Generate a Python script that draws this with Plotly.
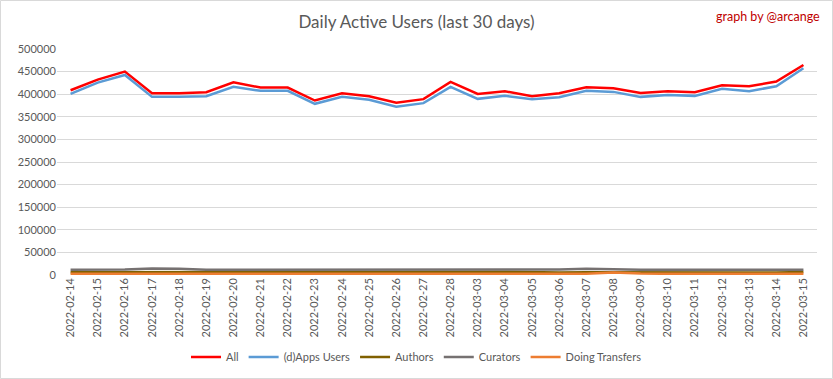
import plotly.graph_objects as go

dates = ["2022-02-14", "2022-02-15", "2022-02-16", "2022-02-17", "2022-02-18", "2022-02-19",
         "2022-02-20", "2022-02-21", "2022-02-22", "2022-02-23", "2022-02-24", "2022-02-25",
         "2022-02-26", "2022-02-27", "2022-02-28", "2022-03-03", "2022-03-04", "2022-03-05",
         "2022-03-06", "2022-03-07", "2022-03-08", "2022-03-09", "2022-03-10", "2022-03-11",
         "2022-03-12", "2022-03-13", "2022-03-14", "2022-03-15"]

all_users = [408800, 432300, 450000, 402200, 402200, 404400, 426500, 414700, 414700, 386000,
             402200, 395600, 380900, 389000, 427200, 400700, 406600, 395600, 402200, 415400,
             413200, 402900, 406600, 404400, 419800, 417600, 427900, 464700]
dapps_users = [400700, 425700, 442600, 394100, 394100, 395600, 416200, 407400, 407400, 378700,
               394100, 387500, 372100, 380200, 416200, 389700, 396300, 389000, 393400, 407400,
               405100, 394100, 398500, 396300, 411800, 406600, 417600, 457300]
authors = [6000, 6000, 6200, 7000, 6800, 5800, 5600, 6800, 7000, 6600,
           5600, 5400, 5400, 5600, 5800, 7000, 7200, 5800, 5600, 6000,
           6200, 5800, 5400, 5400, 5600, 5600, 5600, 6400]
curators = [11800, 11800, 12200, 14500, 14000, 11800, 11800, 11800, 11800, 11800,
            11800, 11800, 11800, 11800, 11800, 11800, 11800, 11800, 12000, 14000,
            12500, 11800, 11800, 11800, 11800, 11800, 11800, 11800]
transfers = [2600, 2600, 2600, 2700, 2600, 2500, 2500, 2600, 2600, 2500,
             2500, 2500, 2500, 2500, 2500, 2600, 2600, 2500, 2600, 3000,
             5500, 3200, 2600, 2500, 2500, 2500, 2500, 2600]

series = [
    ("All", all_users, "#FF0000", 2.5),
    ("(d)Apps Users", dapps_users, "#5B9BD5", 2.5),
    ("Authors", authors, "#806000", 2.5),
    ("Curators", curators, "#767171", 2.5),
    ("Doing Transfers", transfers, "#ED7D31", 2.5),
]

fig = go.Figure()
for name, vals, color, w in series:
    fig.add_trace(go.Scatter(x=dates, y=vals, name=name, mode="lines",
                             line=dict(color=color, width=w)))

font_family = "Lato, 'Open Sans', Arial, sans-serif"

fig.update_layout(
    width=833, height=379,
    margin=dict(l=57, r=16, t=49, b=104, autoexpand=False),
    paper_bgcolor="white", plot_bgcolor="white",
    font=dict(family=font_family, color="#595959", size=11),
    title=dict(text="Daily Active Users (last 30 days)", x=0.5, xanchor="center",
               xref="container",
               y=1 - 22 / 379, yanchor="middle", yref="container",
               font=dict(size=17, color="#595959", family=font_family)),
    showlegend=True,
    legend=dict(orientation="h", x=0.5, xanchor="center", xref="container",
                y=1 - 357 / 379, yanchor="middle", yref="container",
                font=dict(size=11, color="#595959"), itemwidth=30,
                bgcolor="rgba(0,0,0,0)"),
    xaxis=dict(type="category", range=[-0.5, len(dates) - 0.5], tickangle=-90,
               showgrid=False, showline=False, ticks="", zeroline=False, automargin=False,
               tickfont=dict(size=11, color="#595959")),
    yaxis=dict(range=[0, 500000], dtick=50000, tickformat="d", showgrid=True,
               gridcolor="#D9D9D9", gridwidth=1, zeroline=False, showline=False,
               ticks="", automargin=False, tickfont=dict(size=11, color="#595959")),
)

fig.add_annotation(text="graph by @arcange", xref="paper", yref="paper",
                   x=(822 - 57) / 760, y=1 + (49 - 16) / 226, xanchor="right", yanchor="middle",
                   showarrow=False, font=dict(size=12.5, color="#C00000", family=font_family))

# chart area border
fig.add_shape(type="rect", xref="paper", yref="paper",
              x0=-56.5 / 760, x1=1 + 15.5 / 760, y0=-103.5 / 226, y1=1 + 48.5 / 226,
              line=dict(color="#D9D9D9", width=1), fillcolor="rgba(0,0,0,0)", layer="below")

fig.write_html("out.html", config={"displayModeBar": False},
               post_script="document.body.style.margin='0';document.body.style.overflow='hidden';")
